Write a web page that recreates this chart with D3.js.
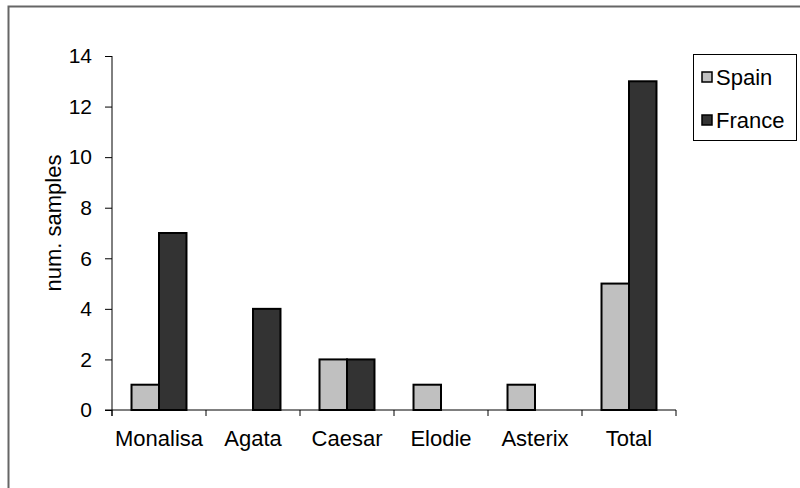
<!DOCTYPE html>
<html>
<head>
<meta charset="utf-8">
<script src="https://cdn.jsdelivr.net/npm/d3@7/dist/d3.min.js"></script>
<style>
  html, body { margin: 0; padding: 0; background: #fff; }
  svg { display: block; font-family: "Liberation Sans", Arial, sans-serif; }
</style>
</head>
<body>
<svg id="chart" width="800" height="488"></svg>
<script>
// Sample counts per dataset, split by country
const categories = ["Monalisa", "Agata", "Caesar", "Elodie", "Asterix", "Total"];
const seriesNames = ["Spain", "France"];
const spain  = [1, 0, 2, 1, 1, 5];
const france = [7, 4, 2, 0, 0, 13];
const yTicks = [0, 2, 4, 6, 8, 10, 12, 14];
const colors = ["#c0c0c0", "#333333"];

const svg = d3.select("#chart");
const plot = { left: 112, right: 676, top: 56, bottom: 410 };

// Outer frame
svg.append("path")
  .attr("d", "M8.5,488 L8.5,6.5 L800,6.5")
  .attr("fill", "none").attr("stroke", "#666").attr("stroke-width", 2);

const x = d3.scaleBand().domain(categories).range([plot.left, plot.right]);
const inner = d3.scaleBand().domain(seriesNames)
  .range([0, x.bandwidth()]).paddingOuter(0.71).paddingInner(0);
const y = d3.scaleLinear().domain([0, 14]).range([plot.bottom, plot.top]);

const rows = categories.map((c, i) => ({ cat: c, values: [spain[i], france[i]] }));

// Bars
const g = svg.append("g");
rows.forEach(r => {
  r.values.forEach((v, j) => {
    if (v <= 0) return;
    g.append("rect")
      .attr("x", x(r.cat) + inner(seriesNames[j]))
      .attr("y", y(v))
      .attr("width", inner.bandwidth())
      .attr("height", y(0) - y(v))
      .attr("fill", colors[j])
      .attr("stroke", "#000")
      .attr("stroke-width", 2);
  });
});

// Y axis
const yAxis = svg.append("g")
  .attr("transform", `translate(${plot.left},0)`)
  .call(d3.axisLeft(y).tickValues(yTicks).tickSize(7).tickPadding(13));
yAxis.select(".domain").attr("d", `M0,${plot.top}V${plot.bottom + 6}`).attr("stroke", "#000");
yAxis.selectAll(".tick line").attr("stroke", "#000");
yAxis.selectAll(".tick text").attr("font-size", 21).attr("fill", "#000")
  .attr("font-family", "'Liberation Sans', Arial, sans-serif");

// X axis: line at zero with ticks at band boundaries
const xAxis = svg.append("g").attr("transform", `translate(0,${plot.bottom})`);
xAxis.append("line").attr("x1", plot.left - 7).attr("x2", plot.right)
  .attr("stroke", "#000");
const bounds = categories.map(c => x(c)).concat([plot.right]);
xAxis.selectAll("line.tk").data(bounds).join("line").attr("class", "tk")
  .attr("x1", d => d).attr("x2", d => d).attr("y1", 0).attr("y2", 6)
  .attr("stroke", "#000");
xAxis.selectAll("text").data(categories).join("text")
  .attr("x", d => x(d) + x.bandwidth() / 2)
  .attr("y", 36)
  .attr("text-anchor", "middle")
  .attr("font-size", 22)
  .text(d => d);

// Y axis title
svg.append("text")
  .attr("transform", `translate(61,${(plot.top + plot.bottom) / 2 - 10}) rotate(-90)`)
  .attr("text-anchor", "middle")
  .attr("font-size", 22)
  .text("num. samples");

// Legend
const lg = svg.append("g");
lg.append("rect").attr("x", 693.5).attr("y", 54.5).attr("width", 103).attr("height", 86)
  .attr("fill", "#fff").attr("stroke", "#000");
seriesNames.forEach((s, i) => {
  const cy = 77 + i * 43;
  lg.append("rect").attr("x", 702).attr("y", cy - 5).attr("width", 10).attr("height", 10)
    .attr("fill", colors[i]).attr("stroke", "#000").attr("stroke-width", 1.5);
  lg.append("text").attr("x", 716).attr("y", cy + 8).attr("font-size", 22).text(s);
});
</script>
</body>
</html>
